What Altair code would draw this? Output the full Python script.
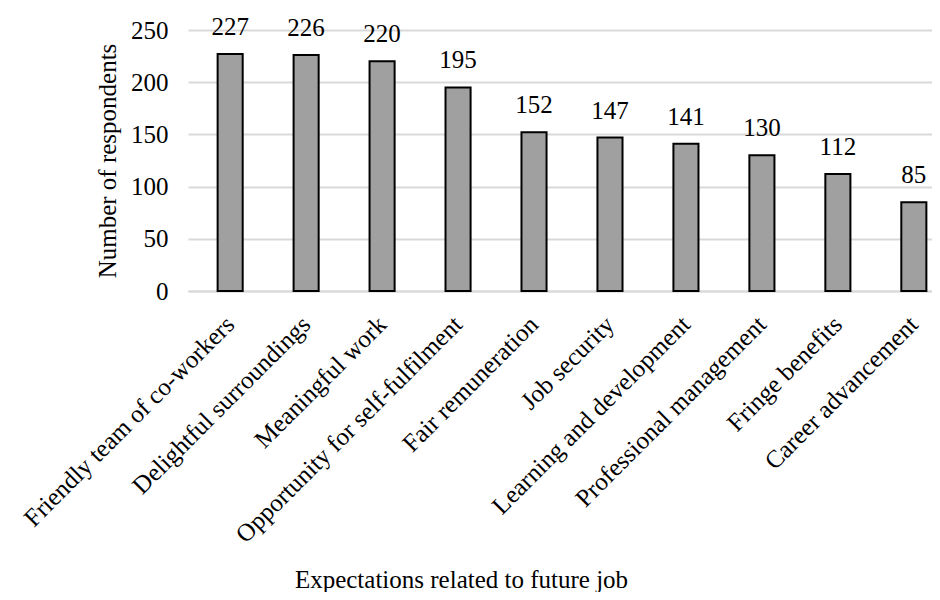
import altair as alt
import pandas as pd

categories = [
    "Friendly team of co-workers",
    "Delightful surroundings",
    "Meaningful work",
    "Opportunity for self-fulfilment",
    "Fair remuneration",
    "Job security",
    "Learning and development",
    "Professional management",
    "Fringe benefits",
    "Career advancement",
]
values = [227, 226, 220, 195, 152, 147, 141, 130, 112, 85]
y_ticks = [0, 50, 100, 150, 200, 250]

df = pd.DataFrame({"cat": categories, "val": values})

FONT = "Liberation Serif"
FS = 25

x_scale = alt.Scale(paddingInner=0.67, paddingOuter=0.39, range=[0, 768])

x_enc = alt.X(
    "cat:N",
    sort=categories,
    scale=x_scale,
    axis=alt.Axis(
        title="Expectations related to future job",
        labelAngle=-45,
        labelAlign="right",
        labelBaseline="middle",
        labelPadding=29,
        ticks=False,
        domain=True,
        domainColor="#d9d9d9",
        domainWidth=2,
        labelFont=FONT,
        labelFontSize=FS,
        labelColor="#000000",
        titleFont=FONT,
        titleFontSize=FS,
        titleFontWeight="normal",
        titleColor="#000000",
        titleX=273,
        titleY=296,
        titleAnchor="middle",
        titleAlign="center",
        titleBaseline="alphabetic",
        labelOverlap=False,
        labelLimit=0,
    ),
)

y_scale = alt.Scale(domain=[0, 250], nice=False)

bars = alt.Chart(df).mark_bar(
    fill="#a0a0a0", stroke="#000000", strokeWidth=2
).encode(
    x=x_enc,
    y=alt.Y(
        "val:Q",
        scale=y_scale,
        axis=alt.Axis(
            title="Number of respondents",
            values=y_ticks,
            grid=True,
            gridColor="#d9d9d9",
            gridWidth=2,
            ticks=False,
            domain=False,
            labelPadding=20,
            labelFont=FONT,
            labelFontSize=FS,
            labelColor="#000000",
            titleFont=FONT,
            titleFontSize=FS,
            titleFontWeight="normal",
            titleColor="#000000",
            titlePadding=10,
        ),
    ),
)

labels = alt.Chart(df).mark_text(
    font=FONT, fontSize=FS, color="#000000", baseline="alphabetic", dy=-19
).encode(
    x=alt.X("cat:N", sort=categories, scale=x_scale),
    y=alt.Y("val:Q", scale=y_scale),
    text="val:Q",
)

chart = (
    alt.layer(bars, labels)
    .properties(
        width=744,
        height=261,
        autosize=alt.AutoSizeParams(type="none"),
        padding={"left": 180, "top": 22, "right": 0, "bottom": 301},
    )
    .configure_view(stroke=None)
)

chart.save("out.html", embed_options={"renderer": "svg", "actions": False})
